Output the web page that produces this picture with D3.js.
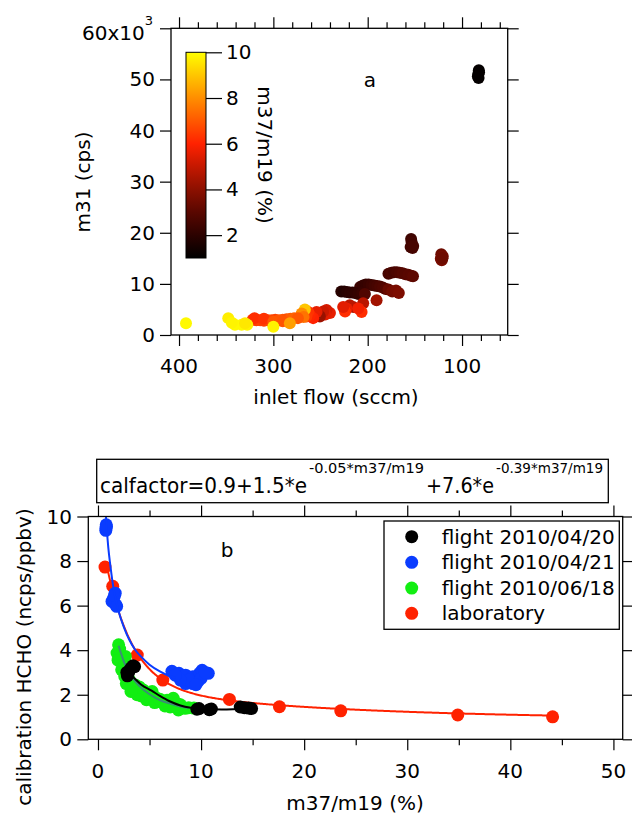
<!DOCTYPE html>
<html>
<head>
<meta charset="utf-8">
<script src="https://cdn.jsdelivr.net/npm/d3@7"></script>
<style>
  body { margin: 0; background: #fff; }
  svg { display: block; }
</style>
</head>
<body>
<svg id="chart" width="632" height="814"></svg>
<script>
// ---- panel a: m31 signal vs inlet flow, coloured by m37/m19 ----
const flowSccm = [
  82.7, 82.2, 83.2, 82.5, 82.0,
  154, 153.5, 153, 152.5, 154.5, 151.8,
  122, 120.5, 122.5, 121.5, 120.8,
  178, 175, 172, 169, 166, 163, 160, 157, 154, 152,
  208, 205, 202, 199, 196, 193, 190, 187, 184, 181,
  178, 174, 170, 167,
  228, 225, 222, 219, 216, 213, 210, 206, 203,
  190.6, 204.8, 215.4, 219,
  222.4, 224, 206.5, 210, 226,
  240, 243.6, 245, 247.2, 250.7, 252, 254.2, 257.8, 261.3, 263, 265,
  266.6, 270, 268,
  322, 318, 314, 310, 306, 302, 298, 294, 290, 286, 282, 278, 274, 320, 310, 300, 290,
  392.6, 347.8, 340.7, 333.6, 327.7, 344, 330, 300,
  282.5
];
const m31Cps = [
  51100, 51800, 50600, 50300, 51400,
  18800, 18200, 17500, 17000, 17200, 17400,
  15800, 15400, 14900, 14600, 15000,
  12000, 12200, 12300, 12300, 12200, 12100, 11900, 11800, 11600, 11500,
  9400, 9700, 9900, 9900, 9800, 9700, 9600, 9500, 9300, 9000,
  8900, 8500, 8700, 8200,
  8500, 8500, 8400, 8300, 8300, 8200, 8000, 8200, 8000,
  6800, 6200, 5500, 5800,
  5200, 4600, 4500, 5200, 5500,
  4300, 4900, 4000, 4600, 3600, 3900, 4500, 3300, 3900, 4500, 3600,
  5000, 4200, 3500,
  3000, 2900, 2900, 2800, 2900, 2900, 3000, 2900, 3000, 3100, 3200, 3300, 3300, 3300, 3200, 2600, 2700,
  2300, 3300, 2000, 2000, 2000, 2400, 2300, 1600,
  2300
];
const ratioA = [
  1.1, 1.1, 1.15, 1.1, 1.1,
  2.4, 2.5, 2.5, 2.6, 2.5, 2.6,
  3.4, 3.5, 3.5, 3.6, 3.4,
  2.6, 2.7, 2.6, 2.7, 2.8, 2.9, 2.9, 3.0, 3.0, 3.1,
  2.4, 2.3, 2.2, 2.3, 2.4, 2.5, 2.6, 2.7, 2.8, 2.9,
  3.3, 3.5, 3.6, 3.7,
  1.9, 1.8, 1.9, 2.0, 2.0, 2.1, 2.2, 2.3, 2.8,
  4.4, 4.8, 4.6, 4.8,
  5.6, 6.2, 6.2, 5.8, 5.5,
  5.6, 5.3, 5.5, 5.1, 4.3, 4.2, 5.6, 6.0, 6.1, 6.3, 6.4,
  9.0, 8.0, 7.5,
  6.4, 6.5, 6.6, 6.5, 6.7, 6.8, 6.6, 6.9, 7.0, 6.8, 7.1, 7.2, 7.0, 6.2, 6.3, 7.0, 6.9,
  9.9, 9.7, 9.9, 9.9, 9.8, 9.8, 9.6, 9.8,
  8.3
];
const flowMajorTicks = [400, 300, 200, 100];
const flowMinorTicks = [380, 360, 340, 320, 280, 260, 240, 220, 180, 160, 140, 120, 80, 60];
const m31Ticks = [0, 10000, 20000, 30000, 40000, 50000, 60000];
const m31TickLabels = ["0", "10", "20", "30", "40", "50"];
const ratioBarTicks = [2, 4, 6, 8, 10];
const heatStops = [1, 2, 3, 4, 5, 6, 7, 8, 9, 10];
const heatColors = ["#000000", "#2c0200", "#590700", "#8c1000", "#c41800", "#ff2200",
                    "#ff5800", "#ff8e00", "#ffc600", "#ffff00"];

// ---- panel b: calibration factor vs m37/m19 ----
const labX = [0.68, 1.43, 3.81, 6.29, 12.75, 17.6, 23.55, 34.9, 44.1];
const labY = [7.73, 6.87, 3.78, 2.66, 1.79, 1.46, 1.28, 1.09, 1.01];
const fitCoef = [0.9, 1.5, -0.05, 7.6, -0.39];   // calfactor = a + b e^(c x) + d e^(f x)
const fitStart = 0.85;

const apr21X = [0.78, 0.8, 0.76, 0.82, 1.51, 1.67, 1.73, 1.36, 1.81, 1.6,
                7.17, 7.85, 8.5, 8.5, 9.2, 9.2, 9.85, 10.1, 10.7, 9.7, 8.85, 8.0, 7.5, 10.0, 10.4, 9.5];
const apr21Y = [9.48, 9.63, 9.38, 9.55, 6.33, 6.56, 6.04, 6.19, 5.97, 6.45,
                3.05, 2.96, 2.88, 2.5, 2.81, 2.5, 2.96, 3.1, 2.96, 2.6, 2.66, 2.66, 2.88, 2.73, 3.0, 2.45];
const apr21FitX = [0.74, 0.8, 1.0, 1.2, 1.5, 2.0, 2.5, 3.0, 3.6, 4.2, 5.0, 6.0, 7.0, 7.5];
const apr21FitY = [10.3, 9.8, 8.6, 7.8, 6.8, 5.75, 5.05, 4.5, 4.02, 3.7, 3.35, 3.05, 2.83, 2.75];

const jun18X = [2.0, 1.85, 2.17, 2.33, 2.65, 3.14, 3.6, 3.95, 4.4, 4.9, 5.25, 5.7, 6.2, 6.85,
                7.3, 7.8, 7.5, 8.45, 3.8, 3.3, 2.6, 2.3, 2.9, 2.1, 1.95, 2.45, 3.0, 3.45,
                4.2, 4.7, 5.5, 6.0, 6.5, 7.0, 8.0, 8.8, 9.3, 5.0, 4.0, 3.2, 2.75, 6.7, 7.7];
const jun18Y = [4.24, 3.87, 3.65, 3.42, 3.72, 2.52, 2.44, 2.14, 2.21, 1.92, 2.14, 1.84, 1.69, 1.62,
                1.84, 1.32, 1.47, 1.39, 2.0, 2.3, 2.82, 3.12, 2.97, 4.05, 3.55, 3.25, 2.7, 2.2,
                1.95, 1.78, 1.65, 1.8, 1.5, 1.45, 1.55, 1.42, 1.4, 2.0, 2.35, 2.15, 2.5, 1.75, 1.6];
const jun18FitX = [2.0, 2.5, 3.0, 4.0, 5.0, 6.0, 7.0, 8.0, 8.8];
const jun18FitY = [4.2, 3.5, 3.0, 2.4, 2.02, 1.76, 1.6, 1.47, 1.4];

const apr20X = [2.8, 2.9, 3.0, 3.2, 3.4, 3.55, 2.85, 9.6, 9.8, 10.8, 11.0, 13.8, 14.2, 14.6, 14.9];
const apr20Y = [3.0, 2.9, 3.05, 3.2, 3.3, 3.26, 2.85, 1.35, 1.38, 1.33, 1.36, 1.45, 1.42, 1.4, 1.38];
const apr20FitX = [2.9, 3.5, 4.2, 5.2, 6.0, 6.9, 8.0, 9.0, 10.0, 12.0, 14.6];
const apr20FitY = [3.0, 2.75, 2.45, 2.18, 1.95, 1.72, 1.52, 1.42, 1.37, 1.34, 1.37];

const legendNames = ["flight 2010/04/20", "flight 2010/04/21", "flight 2010/06/18", "laboratory"];
const legendColors = ["#000000", "#0a3cff", "#12ee12", "#ff2200"];
const ratioMajorTicks = [0, 10, 20, 30, 40, 50];
const ratioMinorTicks = [5, 15, 25, 35, 45];
const calTicks = [0, 2, 4, 6, 8, 10];

const FONT = '"DejaVu Sans", "Lucida Grande", sans-serif';
const svg = d3.select("#chart");

function txt(g, x, y, s, size, anchor, base) {
  return g.append("text").attr("x", x).attr("y", y).text(s)
    .attr("font-family", FONT).attr("font-size", size).attr("fill", "#000")
    .attr("text-anchor", anchor || "start")
    .attr("dominant-baseline", base || "auto");
}

function tickSet(g, axisFn, scale, values, size, tx, ty) {
  const ax = axisFn(scale).tickValues(values).tickSizeInner(size).tickSizeOuter(0).tickFormat("");
  const a = g.append("g").attr("transform", `translate(${tx},${ty})`).call(ax);
  a.select(".domain").remove();
  a.selectAll("line").attr("stroke", "#000").attr("stroke-width", 1.2);
  return a;
}

function box(g, x0, x1, y0, y1) {
  g.append("rect").attr("x", x0).attr("y", y0).attr("width", x1 - x0).attr("height", y1 - y0)
    .attr("fill", "none").attr("stroke", "#000").attr("stroke-width", 1.3);
}

// ================= panel a =================
const A = { l: 171, r: 507.7, t: 28.3, b: 335 };
const xA = d3.scaleLinear().domain([408.5, 51.6]).range([A.l, A.r]);
const yA = d3.scaleLinear().domain([0, 60000]).range([A.b, A.t]);
const heat = d3.scaleLinear().domain(heatStops).range(heatColors).clamp(true);
const gA = svg.append("g");

gA.append("defs").append("clipPath").attr("id", "clipA")
  .append("rect").attr("x", A.l).attr("y", A.t).attr("width", A.r - A.l).attr("height", A.b - A.t);

gA.append("g").attr("clip-path", "url(#clipA)")
  .selectAll("circle").data(flowSccm.map((f, i) => ({ f, m: m31Cps[i], c: ratioA[i] })))
  .join("circle")
  .attr("cx", d => xA(d.f)).attr("cy", d => yA(d.m)).attr("r", 6)
  .attr("fill", d => heat(d.c));

box(gA, A.l, A.r, A.t, A.b);
tickSet(gA, d3.axisBottom, xA, flowMajorTicks, 11, 0, A.b);
tickSet(gA, d3.axisBottom, xA, flowMinorTicks, 6, 0, A.b);
tickSet(gA, d3.axisTop, xA, flowMajorTicks, 11, 0, A.t);
tickSet(gA, d3.axisTop, xA, flowMinorTicks, 6, 0, A.t);
tickSet(gA, d3.axisLeft, yA, m31Ticks, 11, A.l, 0);
tickSet(gA, d3.axisRight, yA, m31Ticks, 11, A.r, 0);

flowMajorTicks.forEach(v => txt(gA, xA(v), 373, String(v), 20, "middle"));
m31TickLabels.forEach((s, i) => txt(gA, 155, yA(m31Ticks[i]), s, 20, "end", "central"));
const top60 = txt(gA, 82, 40, "60x10", 20, "start");
top60.append("tspan").attr("font-size", 13).attr("dy", -15).text("3");

txt(gA, 336, 404, "inlet flow (sccm)", 20, "middle");
txt(gA, 0, 0, "m31 (cps)", 20, "middle", "central")
  .attr("transform", "translate(83,182) rotate(-90)");
txt(gA, 370, 87, "a", 20, "middle");

// colour bar
const cb = { l: 186, r: 206, t: 52.3, b: 258 };
const yCb = d3.scaleLinear().domain([1, 10]).range([cb.b, cb.t]);
const grad = gA.select("defs").append("linearGradient").attr("id", "heatGrad")
  .attr("x1", 0).attr("y1", 1).attr("x2", 0).attr("y2", 0);
grad.selectAll("stop").data(heatStops).join("stop")
  .attr("offset", d => (d - 1) / 9).attr("stop-color", d => heat(d));
gA.append("rect").attr("x", cb.l).attr("y", cb.t).attr("width", cb.r - cb.l).attr("height", cb.b - cb.t)
  .attr("fill", "url(#heatGrad)").attr("stroke", "#000").attr("stroke-width", 1);
tickSet(gA, d3.axisRight, yCb, ratioBarTicks, 16, cb.r, 0);
ratioBarTicks.forEach(v => txt(gA, 226, yCb(v), String(v), 20, "start", "central"));
txt(gA, 0, 0, "m37/m19 (%)", 20, "middle", "central")
  .attr("transform", "translate(265,155) rotate(90)");

// ================= panel b =================
const B = { l: 88.3, r: 622.7, t: 516.5, b: 739.3 };
const xB = d3.scaleLinear().domain([-0.94, 50.9]).range([B.l, B.r]);
const yB = d3.scaleLinear().domain([0, 10]).range([B.b, B.t]);
const gB = svg.append("g");
gB.append("defs").append("clipPath").attr("id", "clipB")
  .append("rect").attr("x", B.l).attr("y", B.t).attr("width", B.r - B.l).attr("height", B.b - B.t);
const plotB = gB.append("g").attr("clip-path", "url(#clipB)");

const line = d3.line().x(d => xB(d[0])).y(d => yB(d[1]));
const smooth = d3.line().x(d => xB(d[0])).y(d => yB(d[1])).curve(d3.curveMonotoneX);

function dots(xs, ys, color) {
  plotB.append("g").selectAll("circle").data(xs.map((x, i) => [x, ys[i]])).join("circle")
    .attr("cx", d => xB(d[0])).attr("cy", d => yB(d[1])).attr("r", 6.5).attr("fill", color);
}
function curve(xs, ys, color) {
  plotB.append("path").datum(xs.map((x, i) => [x, ys[i]]))
    .attr("d", smooth).attr("fill", "none").attr("stroke", color).attr("stroke-width", 2);
}

// laboratory points and the fitted calfactor expression
dots(labX, labY, legendColors[3]);
const [a0, b0, c0, d0, f0] = fitCoef;
const labFit = d3.range(fitStart, labX[labX.length - 1] + 0.01, 0.1)
  .map(x => [x, a0 + b0 * Math.exp(c0 * x) + d0 * Math.exp(f0 * x)]);
plotB.append("path").datum(labFit).attr("d", line)
  .attr("fill", "none").attr("stroke", legendColors[3]).attr("stroke-width", 2);

dots(jun18X, jun18Y, legendColors[2]);
curve(jun18FitX, jun18FitY, "#3a8e74");
dots(apr20X, apr20Y, legendColors[0]);
curve(apr20FitX, apr20FitY, "#000000");
dots(apr21X, apr21Y, legendColors[1]);
curve(apr21FitX, apr21FitY, legendColors[1]);

box(gB, B.l, B.r, B.t, B.b);
tickSet(gB, d3.axisBottom, xB, ratioMajorTicks, 11, 0, B.b);
tickSet(gB, d3.axisBottom, xB, ratioMinorTicks, 6, 0, B.b);
tickSet(gB, d3.axisTop, xB, ratioMajorTicks, 11, 0, B.t);
tickSet(gB, d3.axisTop, xB, ratioMinorTicks, 6, 0, B.t);
tickSet(gB, d3.axisLeft, yB, calTicks, 11, B.l, 0);
tickSet(gB, d3.axisRight, yB, calTicks, 10, B.r, 0);

ratioMajorTicks.forEach(v => txt(gB, xB(v), 778, String(v), 20, "middle"));
calTicks.forEach(v => txt(gB, 72, yB(v), String(v), 20, "end", "central"));
txt(gB, 355, 810, "m37/m19 (%)", 20, "middle");
txt(gB, 0, 0, "calibration HCHO (ncps/ppbv)", 20, "middle", "central")
  .attr("transform", "translate(24,657) rotate(-90)");
txt(gB, 227, 557, "b", 20, "middle");

// legend
box(gB, 384, 619.3, 521, 629.3);
const legRows = [536.7, 562.3, 588.1, 613.3];
legendNames.forEach((name, i) => {
  gB.append("circle").attr("cx", 411.7).attr("cy", legRows[i]).attr("r", 6.5).attr("fill", legendColors[i]);
  txt(gB, 441.7, legRows[i], name, 20, "start", "central");
});

// fit expression box: base text and exponents set as separate runs
box(gB, 96.7, 608.3, 459.3, 502.7);
const eqParts = [
  { s: "calfactor=0.9+1.5*e", x: 100, w: 207, y: 492.7, size: 20.5 },
  { s: "-0.05*m37/m19",       x: 309, w: 115, y: 472.5, size: 14 },
  { s: "+7.6*e",              x: 426, w: 68,  y: 492.7, size: 20.5 },
  { s: "-0.39*m37/m19",       x: 496, w: 107, y: 472.5, size: 14 }
];
eqParts.forEach(p => {
  txt(gB, p.x, p.y, p.s, p.size, "start")
    .attr("textLength", p.w).attr("lengthAdjust", "spacingAndGlyphs");
});
</script>
</body>
</html>
